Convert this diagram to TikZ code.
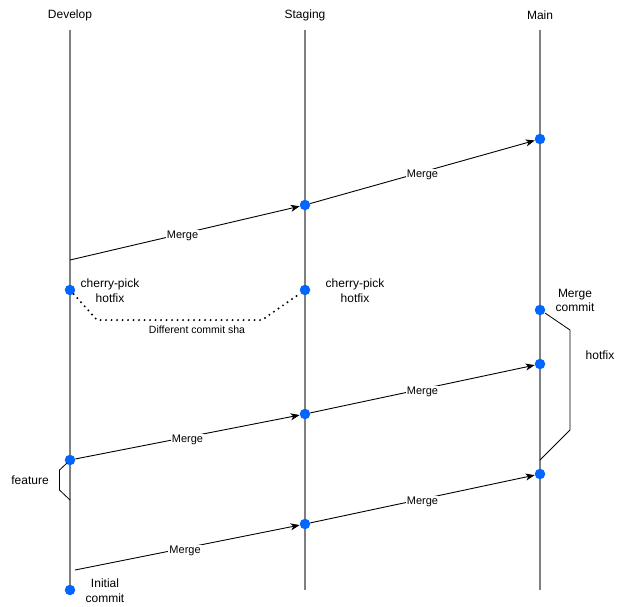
\documentclass[tikz,border=0pt]{standalone}
\usepackage{fontspec}
\setmainfont{Liberation Sans}
\usetikzlibrary{arrows.meta}
\definecolor{dotblue}{HTML}{0066FF}
\definecolor{lifegray}{HTML}{808080}
\begin{document}
\begin{tikzpicture}[x=1pt,y=-1pt,
  lifeline/.style={draw=lifegray,line width=2pt},
  commit/.style={circle,fill=dotblue,minimum size=10.5pt,inner sep=0pt},
  mergearrow/.style={draw=black,line width=0.9pt,-{Stealth[length=9pt,width=7pt,inset=2.5pt]}},
  mlabel/.style={fill=white,inner sep=1pt,yshift=-2.5pt,font=\fontsize{11}{13}\selectfont},
  txt/.style={font=\fontsize{12}{14.5}\selectfont,align=center,inner sep=0pt},
  bracketline/.style={draw=black,line width=0.8pt}]
\useasboundingbox (0,0) rectangle (620,606);
% headers
\node[txt] (hdev) at (70,15) {Develop};
\node[txt] (hstg) at (305,15) {Staging};
\node[txt] (hmain) at (540,15) {Main};
% lifelines
\coordinate (devtop) at (70,30);
\coordinate (devbot) at (70,590);
\coordinate (stgtop) at (305,30);
\coordinate (stgbot) at (305,590);
\coordinate (maintop) at (540,30);
\coordinate (mainbot) at (540,590);
\draw[lifeline] (devtop) -- (devbot);
\draw[lifeline] (stgtop) -- (stgbot);
\draw[lifeline] (maintop) -- (mainbot);
% commits
\node[commit] (m1) at (540,139) {};
\node[commit] (s1) at (305,205) {};
\node[commit] (dcp) at (70,290) {};
\node[commit] (scp) at (305,290) {};
\node[commit] (mmc) at (540,310) {};
\node[commit] (m2) at (540,364) {};
\node[commit] (s2) at (305,414) {};
\node[commit] (d2) at (70,460) {};
\node[commit] (m3) at (540,474) {};
\node[commit] (s3) at (305,524) {};
\node[commit] (dinit) at (70,590) {};
% free ends
\coordinate (d1start) at (70,260);
\coordinate (d3start) at (75,570);
% merges
\draw[mergearrow] (d1start) -- node[mlabel,pos=0.49] (l1) {Merge} (s1);
\draw[mergearrow] (s1) -- node[mlabel,pos=0.5] (l2) {Merge} (m1);
\draw[mergearrow] (d2) -- node[mlabel,pos=0.5] (l3) {Merge} (s2);
\draw[mergearrow] (s2) -- node[mlabel,pos=0.5] (l4) {Merge} (m2);
\draw[mergearrow] (d3start) -- node[mlabel,pos=0.49] (l5) {Merge} (s3);
\draw[mergearrow] (s3) -- node[mlabel,pos=0.5] (l6) {Merge} (m3);
% cherry-pick dotted
\coordinate (cpa) at (97,320);
\coordinate (cpb) at (262,320);
\draw[black,line width=2.2pt,dash pattern=on 0pt off 5.5pt,line cap=round] (dcp) -- (cpa) -- (cpb) -- (scp);
\node[font=\fontsize{10.5}{12}\selectfont,inner sep=0pt] (dcs) at (197,330) {Different commit sha};
% labels
\node[txt] (lcp1) at (110,290.5) {cherry-pick\\hotfix};
\node[txt] (lcp2) at (355,290.5) {cherry-pick\\hotfix};
\node[txt] (lmc) at (575,300.5) {Merge\\commit};
\node[txt] (lhf) at (600,355) {hotfix};
\node[txt] (linit) at (105,590.5) {Initial\\commit};
\node[txt] (lfeat) at (30,480) {feature};
% brackets
\coordinate (hb1) at (545,313);
\coordinate (hb2) at (570,330);
\coordinate (hb3) at (570,430);
\coordinate (hb4) at (540,460);
\draw[bracketline] (hb1) -- (hb2) -- (hb3) -- (hb4);
\coordinate (fb1) at (67,463);
\coordinate (fb2) at (59.5,470);
\coordinate (fb3) at (59.5,490);
\coordinate (fb4) at (70,500);
\draw[bracketline] (fb1) -- (fb2) -- (fb3) -- (fb4);
\end{tikzpicture}
\end{document}
